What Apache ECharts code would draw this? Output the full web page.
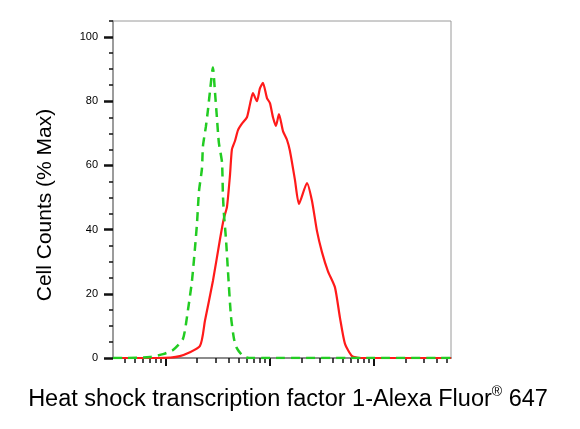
<!DOCTYPE html>
<html><head><meta charset="utf-8">
<script src="https://cdn.jsdelivr.net/npm/echarts@6/dist/echarts.min.js"></script>
<style>html,body{margin:0;padding:0;background:#fff}#c{width:580px;height:429px}</style>
</head><body><div id="c"></div>
<script>
// Fluorescence intensity (log scale) and % of max counts
const xMajorTicks = [100, 1000, 10000];
const xMinorTicks = [40,50,60,70,80,90,200,300,400,500,600,700,800,900,2000,3000,4000,5000,6000,7000,8000,9000,20000,30000,40000,50000];
const yMajorTicks = [0,20,40,60,80,100];
const yMinorTicks = [5,10,15,25,30,35,45,50,55,65,70,75,85,90,95,105];

const controlX = [31,39,70,94,117,146,163,178,190,199,208,222,227,242,253,265,283,296,309,323,346,353,361,378,395,422,451,482,550,628,1000,10000,55000];
const controlY = [0,0,0.3,1.2,2.5,6,15,24,34,42,52,59,66,72,77,83,90.5,83,75,67,61,51,45,37,27,13,6,3,0.6,0,0,0,0];

const sampleX = [31,82,136,212,237,283,331,361,386,413,431,461,493,538,601,642,686,750,801,856,936,1000,1069,1142,1221,1334,1457,1557,1739,1900,2269,2534,2830,3162,3613,4217,4711,5263,6144,7337,55000];
const sampleY = [0,0,0.6,3.7,11.5,24,37,43.6,47,57,65,67.6,71,73,75,79,82.5,80,84,85.7,81,79.4,75,72.3,76,70.7,68,64.5,55.5,48,54.5,49,39.6,33,27,22,12.5,4.4,0.6,0,0];

const xTitle = 'Heat shock transcription factor 1-Alexa Fluor';
const xTitleSup = '®';
const xTitleEnd = ' 647';
const yTitle = 'Cell Counts (% Max)';

const pair = (xs, ys) => xs.map((x, i) => [x, ys[i]]);
const chart = echarts.init(document.getElementById('c'));
const FONT = 'Liberation Sans, Arial, sans-serif';
const xBase = {type:'log', logBase:10, min:31, max:55000, gridIndex:0, position:'bottom', splitLine:{show:false}, axisLabel:{show:false}};
const yBase = {type:'value', min:0, max:105, gridIndex:0, position:'left', splitLine:{show:false}};
chart.setOption({
  animation:false,
  grid:{left:113, top:21, width:338, height:337, show:true, borderColor:'#9a9a9a', borderWidth:1, backgroundColor:'#fff'},
  xAxis:[
    Object.assign({}, xBase, {axisLine:{show:true, lineStyle:{color:'#8c8c8c', width:2}}, axisTick:{show:true, inside:false, customValues:xMajorTicks, length:8, lineStyle:{color:'#111', width:2}}}),
    Object.assign({}, xBase, {axisLine:{show:false}, axisTick:{show:true, inside:false, customValues:xMinorTicks, length:5, lineStyle:{color:'#111', width:1.5}}})
  ],
  yAxis:[
    Object.assign({}, yBase, {axisLine:{show:true, lineStyle:{color:'#8c8c8c', width:1.5}}, axisTick:{show:true, inside:false, customValues:yMajorTicks, length:9, lineStyle:{color:'#111', width:2.5}}, axisLabel:{show:true, customValues:yMajorTicks, margin:15, fontSize:11, color:'#000', fontFamily:FONT}}),
    Object.assign({}, yBase, {axisLine:{show:false}, axisTick:{show:true, inside:false, customValues:yMinorTicks, length:4, lineStyle:{color:'#111', width:1.5}}, axisLabel:{show:false}})
  ],
  series:[
    {type:'line', data:pair(sampleX, sampleY), showSymbol:false, smooth:0.2, lineStyle:{color:'#ff1a1a', width:2.2}, z:3},
    {type:'line', data:pair(controlX, controlY), showSymbol:false, smooth:0.2, lineStyle:{color:'#22cc22', width:2.5, type:[9,6]}, z:4}
  ],
  graphic:[
    {type:'text', x:288, y:385, style:{
      text:'{n|' + xTitle + '}{s|' + xTitleSup + '}{n|' + xTitleEnd + '}',
      rich:{n:{fontSize:23.5, fontFamily:FONT, fill:'#000', lineHeight:27, verticalAlign:'bottom'}, s:{fontSize:14, fontFamily:FONT, fill:'#000', lineHeight:27, verticalAlign:'top'}},
      textAlign:'center', textVerticalAlign:'top'}},
    {type:'text', x:45, y:205, rotation:Math.PI/2, style:{text:yTitle, fontSize:21, fontFamily:FONT, fill:'#000', textAlign:'center', textVerticalAlign:'middle'}}
  ]
});
</script></body></html>
